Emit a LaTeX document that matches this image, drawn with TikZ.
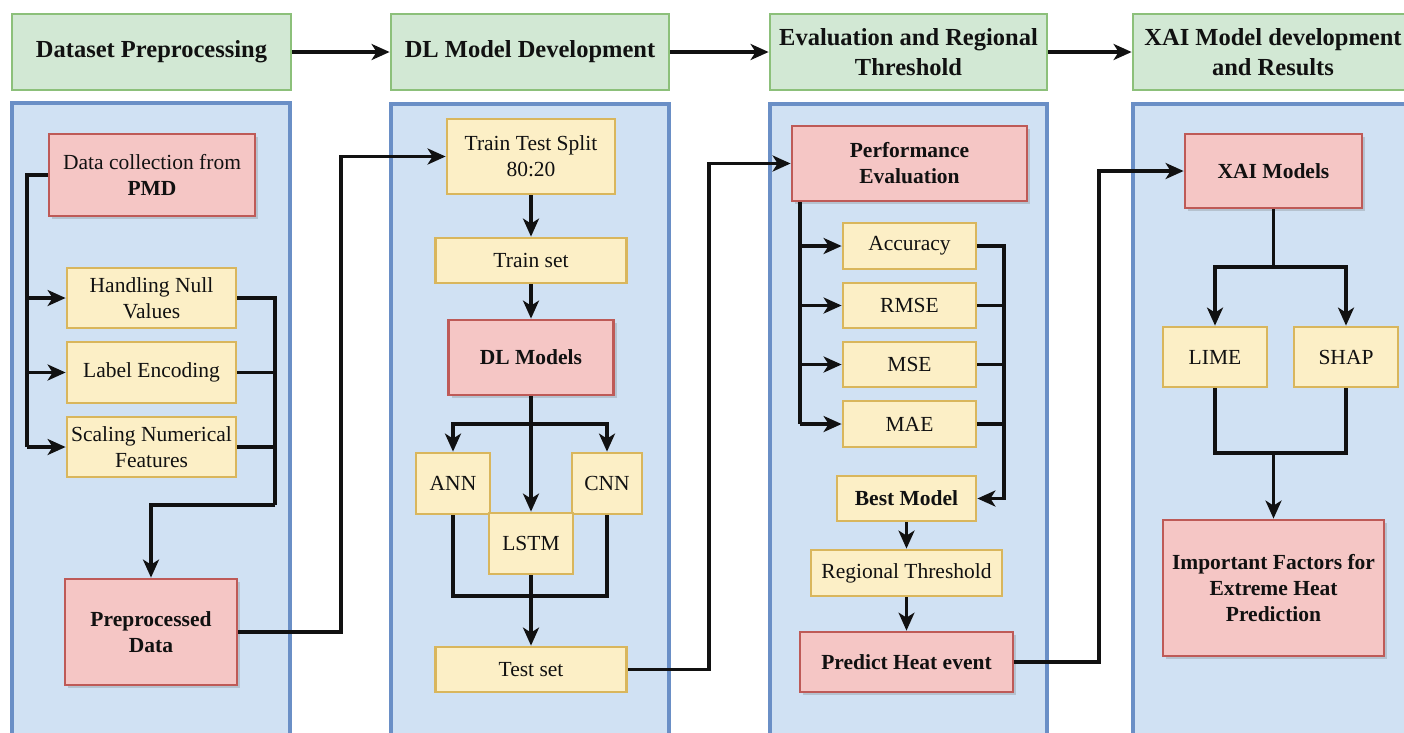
\documentclass[tikz,border=0pt]{standalone}
\usepackage{fontspec}
\setmainfont{Liberation Serif}
\usetikzlibrary{arrows.meta,shadows}

\definecolor{hdrfill}{HTML}{D2E8D4}
\definecolor{hdrline}{HTML}{8CC07A}
\definecolor{panfill}{HTML}{D0E1F3}
\definecolor{panline}{HTML}{6A8FC6}
\definecolor{redfill}{HTML}{F5C6C5}
\definecolor{redline}{HTML}{BE5A57}
\definecolor{yelfill}{HTML}{FCEFC6}
\definecolor{yelline}{HTML}{D9B65C}
\definecolor{ink}{HTML}{111111}

\tikzset{
  bodyfont/.style={font=\fontsize{21.5}{26}\selectfont},
  hdrfont/.style={font=\fontsize{24.5}{30}\selectfont\bfseries},
  header/.style={draw=hdrline, fill=hdrfill, line width=2.8pt, inner sep=0pt,
    align=center, text=ink, hdrfont},
  panel/.style={draw=panline, fill=panfill, line width=3.2pt, inner sep=0pt},
  redbox/.style={draw=redline, fill=redfill, line width=2.8pt, inner sep=0pt,
    align=center, text=ink, bodyfont,
    drop shadow={shadow xshift=3pt, shadow yshift=-3pt, opacity=0.25, fill=black!60}},
  yelbox/.style={draw=yelline, fill=yelfill, line width=2.8pt, inner sep=0pt,
    align=center, text=ink, bodyfont},
  wire/.style={draw=ink, line width=3.2pt},
  wirearrow/.style={wire, -{Stealth[length=18pt,width=16pt,inset=5pt]}},
}

\newcommand{\boxat}[6]{% name, style, cx, cy, width, height, text follows
  \node[#2, minimum width=#5pt, minimum height=#6pt] (#1) at (#3,#4)}

\begin{document}
\begin{tikzpicture}[x=1pt,y=-1pt]
\useasboundingbox (0,0) rectangle (1404,732);
\fill[white] (0,0) rectangle (1404,732);
\clip (0,0) rectangle (1404,732);

% ---- stage headers ----
\boxat{h1}{header}{151.5}{52}{279}{76} {Dataset Preprocessing};
\boxat{h2}{header}{530}{52}{278}{76} {DL Model Development};
\boxat{h3}{header}{908.5}{52}{277}{76} {Evaluation and Regional\\Threshold};
\boxat{h4}{header}{1273}{52}{280}{76} {XAI Model development\\and Results};

\draw[wirearrow] (h1) -- (h2);
\draw[wirearrow] (h2) -- (h3);
\draw[wirearrow] (h3) -- (h4);

% ---- stage panels ----
\boxat{p1}{panel}{151}{424}{278}{642} {};
\boxat{p2}{panel}{530}{424.5}{278}{641} {};
\boxat{p3}{panel}{908.5}{424.5}{277}{641} {};
\boxat{p4}{panel}{1274}{424.5}{282}{641} {};

% ---- dataset preprocessing ----
\boxat{dc}{redbox}{152}{175}{206}{82} {Data collection from\\\textbf{PMD}};
\boxat{hn}{yelbox}{151.5}{298}{169}{60} {Handling Null\\Values};
\boxat{le}{yelbox}{151.5}{372.5}{169}{61} {Label Encoding};
\boxat{sn}{yelbox}{151.5}{447}{169}{60} {Scaling Numerical\\Features};
\boxat{pd}{redbox}{151}{632}{172}{106} {\textbf{Preprocessed}\\\textbf{Data}};

\coordinate (bl1) at (27,175);
\draw[wire] (dc.west) -- (bl1) -- (bl1 |- sn.west);
\draw[wirearrow] (bl1 |- hn.west) -- (hn.west);
\draw[wirearrow] (bl1 |- le.west) -- (le.west);
\draw[wirearrow] (bl1 |- sn.west) -- (sn.west);

\coordinate (br1) at (275,505);
\draw[wire] (hn.east) -| (br1);
\draw[wire] (le.east) -- (le.east -| br1);
\draw[wire] (sn.east) -- (sn.east -| br1);
\draw[wirearrow] (br1) -| (pd.north);

% ---- DL model development ----
\boxat{tts}{yelbox}{531}{156.5}{168}{75} {Train Test Split\\80:20};
\boxat{trs}{yelbox}{531}{260.5}{191}{45} {Train set};
\boxat{dlm}{redbox}{531}{357.5}{165}{75} {\textbf{DL Models}};
\boxat{ann}{yelbox}{453}{483.5}{74}{61} {ANN};
\boxat{cnn}{yelbox}{607}{483.5}{70}{61} {CNN};
\boxat{lstm}{yelbox}{531}{543.5}{84}{61} {LSTM};
\boxat{tst}{yelbox}{531}{669.5}{191}{45} {Test set};

\coordinate (j1) at (341,0);
\draw[wirearrow] (pd.east) -- (pd.east -| j1) |- (tts.west);

\draw[wirearrow] (tts.south) -- (trs.north);
\draw[wirearrow] (trs.south) -- (dlm.north);
\coordinate (sp2) at (531,424);
\draw[wirearrow] (sp2) -| (ann.north);
\draw[wirearrow] (sp2) -| (cnn.north);
\draw[wirearrow] (dlm.south) -- (lstm.north);
\coordinate (mg2) at (531,596);
\draw[wire] (ann.south) |- (mg2) -| (cnn.south);
\draw[wirearrow, line width=4.2pt] (lstm.south) -- (tst.north);

% ---- evaluation and regional threshold ----
\boxat{pe}{redbox}{909.5}{163.5}{235}{75} {\textbf{Performance}\\\textbf{Evaluation}};
\boxat{acc}{yelbox}{909.5}{246}{133}{46} {Accuracy};
\boxat{rmse}{yelbox}{909.5}{305.5}{133}{45} {RMSE};
\boxat{mse}{yelbox}{909.5}{364.5}{133}{45} {MSE};
\boxat{mae}{yelbox}{909.5}{424}{133}{46} {MAE};
\boxat{bm}{yelbox}{906.5}{498.5}{139}{45} {\textbf{Best Model}};
\boxat{rt}{yelbox}{906.5}{573}{191}{46} {Regional Threshold};
\boxat{ph}{redbox}{906.5}{662}{213}{60} {\textbf{Predict Heat event}};

\coordinate (j2) at (709,0);
\draw[wirearrow] (tst.east) -- (tst.east -| j2) |- (pe.west);

\coordinate (bl3) at (800,0);
\draw[wire] (pe.south -| bl3) -- (bl3 |- mae.west);
\draw[wirearrow] (bl3 |- acc.west) -- (acc.west);
\draw[wirearrow] (bl3 |- rmse.west) -- (rmse.west);
\draw[wirearrow] (bl3 |- mse.west) -- (mse.west);
\draw[wirearrow] (bl3 |- mae.west) -- (mae.west);

\coordinate (br3) at (1004,0);
\draw[wirearrow] (acc.east) -- (acc.east -| br3) |- (bm.east);
\draw[wire] (rmse.east) -- (rmse.east -| br3);
\draw[wire] (mse.east) -- (mse.east -| br3);
\draw[wire] (mae.east) -- (mae.east -| br3);

\draw[wirearrow] (bm.south) -- (rt.north);
\draw[wirearrow, line width=2.2pt] (rt.south) -- (ph.north);

% ---- XAI model development ----
\boxat{xai}{redbox}{1273.5}{171}{177}{74} {\textbf{XAI Models}};
\boxat{lime}{yelbox}{1215}{357}{104}{60} {LIME};
\boxat{shap}{yelbox}{1346}{357}{104}{60} {SHAP};
\boxat{ifx}{redbox}{1273.5}{588}{221}{136} {\textbf{Important Factors for}\\\textbf{Extreme Heat}\\\textbf{Prediction}};

\coordinate (j3) at (1099,0);
\draw[wirearrow] (ph.east) -- (ph.east -| j3) |- (xai.west);

\coordinate (sp4) at (1273.5,267);
\draw[wire] (xai.south) -- (sp4);
\draw[wirearrow] (sp4) -| (lime.north);
\draw[wirearrow] (sp4) -| (shap.north);
\coordinate (mg4) at (1273.5,453);
\draw[wire] (lime.south) |- (mg4) -| (shap.south);
\draw[wirearrow] (mg4) -- (ifx.north);
\end{tikzpicture}
\end{document}
